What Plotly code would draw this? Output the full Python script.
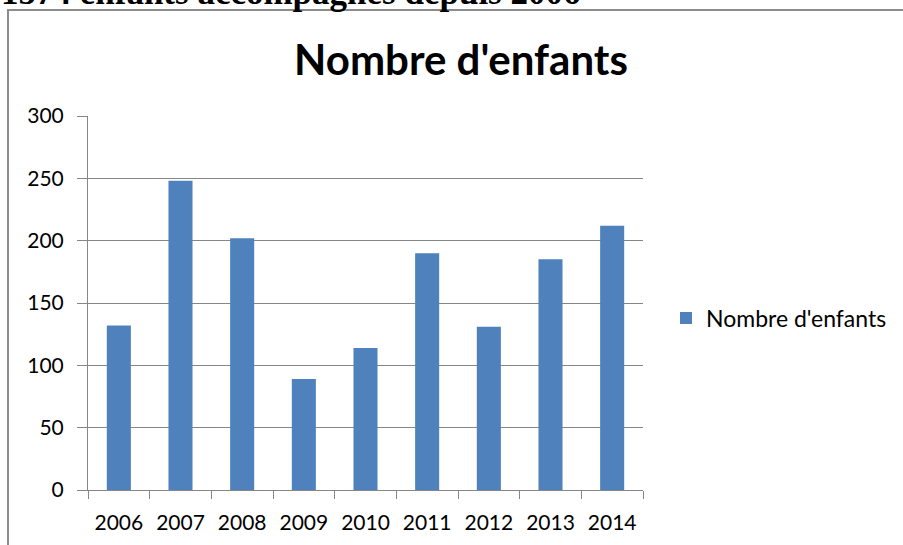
import plotly.graph_objects as go

years = ["2006", "2007", "2008", "2009", "2010", "2011", "2012", "2013", "2014"]
enfants = [132, 248, 202, 89, 114, 190, 131, 185, 212]
series_name = "Nombre d'enfants"
chart_title = "Nombre d'enfants"
page_heading = "1574 enfants accompagnés depuis 2006"
y_ticks = [0, 50, 100, 150, 200, 250, 300]

W, H = 903, 545
L, R, T, B = 88, 260, 116, 55
pw, ph = W - L - R, H - T - B

def px_x(px):
    return (px - L) / pw

def px_y(py):
    return (H - B - py) / ph

grid = "#868686"
font = "Lato"

fig = go.Figure()
fig.add_trace(go.Bar(
    x=years, y=enfants, name=series_name,
    marker=dict(color="#4F81BD", line=dict(width=0)),
    showlegend=True,
))

fig.update_layout(
    width=W, height=H,
    margin=dict(l=L, r=R, t=T, b=B, autoexpand=False),
    paper_bgcolor="white", plot_bgcolor="white",
    bargap=0.61,
    showlegend=True,
    font=dict(family=font, color="#000000"),
    title=dict(text="<b>" + chart_title + "</b>", font=dict(family=font, size=42, color="#000000"),
               x=px_x(461), xref="paper", xanchor="center",
               y=1 - 60 / H, yref="container", yanchor="middle"),
    legend=dict(x=px_x(666), y=px_y(318), xanchor="left", yanchor="middle",
                font=dict(family=font, size=23, color="#000000"),
                bgcolor="rgba(0,0,0,0)", itemwidth=30),
    xaxis=dict(type="category", showline=True, linecolor=grid, linewidth=1,
               ticks="outside", ticklen=8, tickcolor=grid, tickwidth=1,
               tickson="boundaries", showgrid=False,
               tickfont=dict(family=font, size=21, color="#000000"),
               ticklabelstandoff=14),
    yaxis=dict(range=[0, 300], tickvals=y_ticks, showline=True, linecolor=grid, linewidth=1,
               ticks="outside", ticklen=10, tickcolor=grid, tickwidth=1,
               showgrid=True, gridcolor=grid, gridwidth=1, zeroline=False,
               tickfont=dict(family=font, size=21, color="#000000"),
               ticklabelstandoff=9),
)

# outer chart frame (partially off-page)
fig.add_shape(type="rect", xref="paper", yref="paper",
              x0=px_x(8), x1=px_x(1200), y0=px_y(900), y1=px_y(10),
              line=dict(color="#8C8C8C", width=2), fillcolor="rgba(0,0,0,0)", layer="above")

# page heading above the chart, mostly cut off by the page edge
fig.add_annotation(text="<b>" + page_heading + "</b>", xref="paper", yref="paper",
                   x=px_x(-1), y=px_y(14), xanchor="left", yanchor="bottom",
                   showarrow=False, font=dict(family="Liberation Serif", size=35, color="#000000"))

fig.write_html("out.html", config={"displayModeBar": False},
               post_script="document.body.style.margin='0';document.body.style.padding='0';")
